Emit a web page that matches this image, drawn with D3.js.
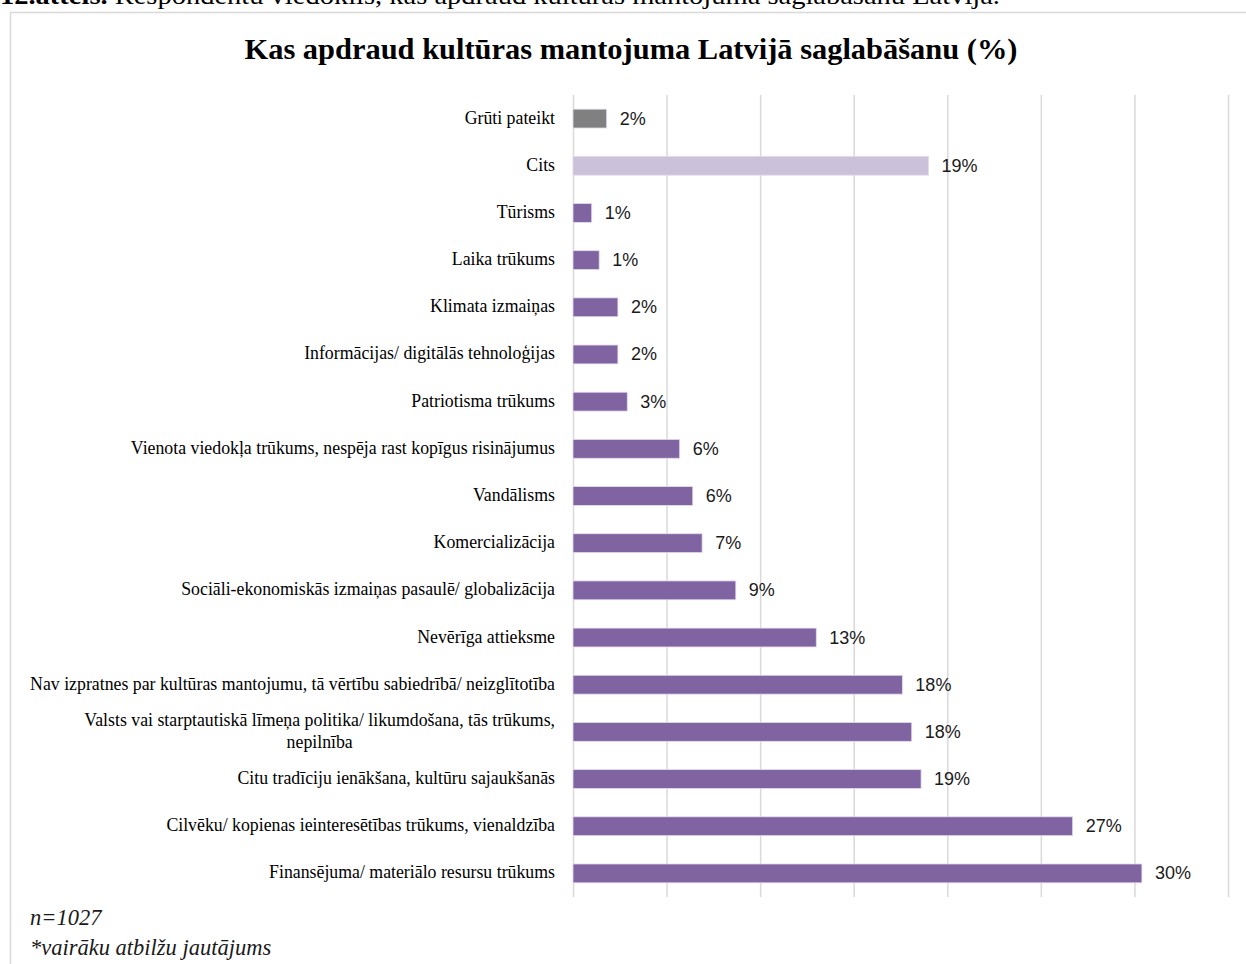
<!DOCTYPE html>
<html>
<head>
<meta charset="utf-8">
<script src="https://cdn.jsdelivr.net/npm/d3@7"></script>
<style>
  body { margin: 0; background: #fff; }
  .grid line { stroke: #d9d9d9; stroke-width: 1.5; }
  .grid path { display: none; }
</style>
</head>
<body>
<div class="viz"></div>
<script>
var w = 1246;
var h = 964;

// categories, top to bottom ("\n" = line break in label)
var categories = [
    "Grūti pateikt",
    "Cits",
    "Tūrisms",
    "Laika trūkums",
    "Klimata izmaiņas",
    "Informācijas/ digitālās tehnoloģijas",
    "Patriotisma trūkums",
    "Vienota viedokļa trūkums, nespēja rast kopīgus risinājumus",
    "Vandālisms",
    "Komercializācija",
    "Sociāli-ekonomiskās izmaiņas pasaulē/ globalizācija",
    "Nevērīga attieksme",
    "Nav izpratnes par kultūras mantojumu, tā vērtību sabiedrībā/ neizglītotība",
    "Valsts vai starptautiskā līmeņa politika/ likumdošana, tās trūkums,\nnepilnība",
    "Citu tradīciju ienākšana, kultūru sajaukšanās",
    "Cilvēku/ kopienas ieinteresētības trūkums, vienaldzība",
    "Finansējuma/ materiālo resursu trūkums"
];
var values = [1.8, 19.0, 1.0, 1.4, 2.4, 2.4, 2.9, 5.7, 6.4, 6.9, 8.7, 13.0, 17.6, 18.1, 18.6, 26.7, 30.4];
var barColors = ["#808080", "#ccc1da"];   // first two bars; the rest use the main purple
var mainColor = "#8064a2";
var xTicks = [0, 5, 10, 15, 20, 25, 30, 35];

var caption = "Respondentu viedoklis, kas apdraud kultūras mantojuma saglabāšanu Latvijā.";
var title = "Kas apdraud kultūras mantojuma Latvijā saglabāšanu (%)";
var notes = ["n=1027", "*vairāku atbilžu jautājums"];

var dataset = categories.map(function(c, i) {
    return { Cat: c, Value: values[i], Color: i < barColors.length ? barColors[i] : mainColor };
});

var xScale = d3.scaleLinear()
    .domain([0, 35])
    .range([573, 1228]);

var yScale = d3.scaleBand()
    .domain(categories)
    .range([95, 897])
    .paddingInner(0.6)
    .paddingOuter(0.3);

var svg = d3.select(".viz")
    .append("svg")
    .attr("width", w)
    .attr("height", h);

// caption above the frame (cut off at the page top, as in the source)
var cap = svg.append("text")
    .attr("x", 0)
    .attr("y", 4)
    .attr("font-family", "Liberation Serif, serif")
    .attr("font-size", "26px")
    .attr("fill", "#000")
    .attr("textLength", 1000)
    .attr("lengthAdjust", "spacingAndGlyphs");
cap.append("tspan").attr("font-weight", "bold").text("12.attēls. ");
cap.append("tspan").text(caption);

// chart frame
svg.append("rect")
    .attr("x", 10.5)
    .attr("y", 12.5)
    .attr("width", w)
    .attr("height", h)
    .attr("fill", "none")
    .attr("stroke", "#d9d9d9")
    .attr("stroke-width", 1.5);

// title
svg.append("text")
    .attr("x", 631)
    .attr("y", 59)
    .attr("text-anchor", "middle")
    .attr("font-family", "Liberation Serif, serif")
    .attr("font-weight", "bold")
    .attr("font-size", "30px")
    .attr("textLength", 773)
    .attr("lengthAdjust", "spacingAndGlyphs")
    .text(title);

// vertical gridlines
var xAxis = d3.axisBottom(xScale)
    .tickValues(xTicks)
    .tickSize(-(897 - 95))
    .tickFormat("");

svg.append("g")
    .attr("class", "grid")
    .attr("transform", "translate(0,897)")
    .call(xAxis);

// bars
svg.selectAll("rect.bar")
    .data(dataset)
    .enter()
    .append("rect")
    .attr("class", "bar")
    .attr("x", xScale(0))
    .attr("y", function(d) { return yScale(d.Cat); })
    .attr("width", function(d) { return xScale(d.Value) - xScale(0); })
    .attr("height", yScale.bandwidth())
    .attr("fill", function(d) { return d.Color; })
    .attr("stroke", "#e4dcee")
    .attr("stroke-width", 0.8);

// value labels
svg.selectAll("text.val")
    .data(dataset)
    .enter()
    .append("text")
    .attr("class", "val")
    .attr("x", function(d) { return xScale(d.Value) + 13; })
    .attr("y", function(d) { return yScale(d.Cat) + yScale.bandwidth() / 2 + 6; })
    .attr("font-family", "Liberation Sans, sans-serif")
    .attr("font-size", "18px")
    .attr("fill", "#1a1a1a")
    .text(function(d) { return Math.round(d.Value) + "%"; });

// category labels
var labels = svg.selectAll("text.cat")
    .data(dataset)
    .enter()
    .append("text")
    .attr("class", "cat")
    .attr("font-family", "Liberation Serif, serif")
    .attr("font-size", "17.8px")
    .attr("fill", "#000")
    .attr("text-anchor", "end")
    .attr("y", function(d) { return yScale(d.Cat) + yScale.bandwidth() / 2 + 5; });

labels.each(function(d) {
    var lines = d.Cat.split("\n");
    var el = d3.select(this);
    if (lines.length == 1) {
        el.attr("x", 555).text(d.Cat);
        return;
    }
    // multi-line: centre the lines on each other, block right-aligned
    el.attr("text-anchor", "middle");
    var y0 = yScale(d.Cat) + yScale.bandwidth() / 2 + 5 - 11;
    var tmp = el.append("tspan").text(lines[0]);
    var wid = tmp.node().getComputedTextLength();
    tmp.remove();
    var cx = 555 - wid / 2;
    lines.forEach(function(l, i) {
        el.append("tspan")
            .attr("x", cx)
            .attr("y", y0 + i * 22)
            .text(l);
    });
});

// notes
svg.selectAll("text.note")
    .data(notes)
    .enter()
    .append("text")
    .attr("class", "note")
    .attr("x", 30)
    .attr("y", function(d, i) { return 925 + i * 30; })
    .attr("font-family", "Liberation Serif, serif")
    .attr("font-style", "italic")
    .attr("font-size", "22.5px")
    .attr("fill", "#1a1a1a")
    .text(function(d) { return d; });
</script>
</body>
</html>
